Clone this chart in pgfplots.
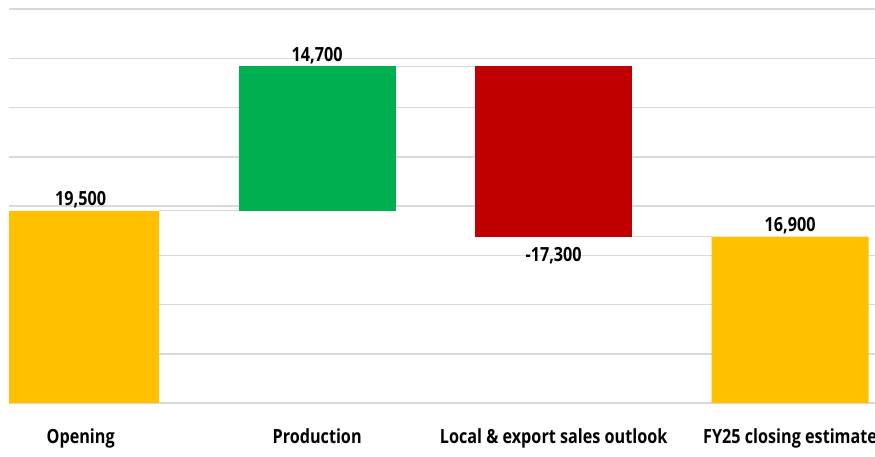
\documentclass[border=0pt]{standalone}
\usepackage{pgfplots}
\pgfplotsset{compat=1.18}
\usepackage{fontspec}
\setmainfont{Open Sans}[FakeStretch=0.83]
\definecolor{cyel}{HTML}{FFC000}
\definecolor{cgrn}{HTML}{00B050}
\definecolor{cred}{HTML}{C00000}
\definecolor{cgrid}{HTML}{D9D9D9}
\tikzset{vlab/.style={font=\bfseries\fontsize{19.5}{23}\selectfont, inner sep=0pt}}
\begin{document}
\begin{tikzpicture}
\path[use as bounding box] (-9pt,-53pt) rectangle (866pt,403pt);
\begin{axis}[
 at={(0pt,0pt)}, anchor=south west, scale only axis, width=866pt, height=394pt,
 xmin=-0.303, xmax=3.359, ymin=0, ymax=40000,
 ybar stacked, bar width=157pt,
 axis line style={draw=none},
 ytick={0,5000,...,40000}, yticklabels={}, scaled y ticks=false,
 ymajorgrids, grid style={cgrid, line width=1.5pt},
 xtick={0,1,2,3},
 xticklabels={Opening, Production, Local \& export sales outlook, FY25 closing estimate},
 major tick length=0pt,
 xticklabel style={font=\bfseries\fontsize{19.5}{23}\selectfont, yshift=-22pt},
 clip=true,
]
\addplot[draw=none, fill=white, fill opacity=0] coordinates {(0,0) (1,19500) (2,16900) (3,0)};
\addplot[draw=none, fill=cyel] coordinates {(0,19500) (1,0) (2,0) (3,16900)};
\addplot[draw=none, fill=cgrn] coordinates {(0,0) (1,14700) (2,0) (3,0)};
\addplot[draw=none, fill=cred] coordinates {(0,0) (1,0) (2,17300) (3,0)};
\draw[cgrid, line width=1pt] (axis cs:0.332,19500) -- (axis cs:0.668,19500);
\draw[cgrid, line width=1pt] (axis cs:1.332,34200) -- (axis cs:1.668,34200);
\draw[cgrid, line width=1pt] (axis cs:2.332,16900) -- (axis cs:2.668,16900);
\node[vlab, anchor=base, yshift=5pt] at (axis cs:0,19500) {19,500};
\node[vlab, anchor=base, yshift=5pt] at (axis cs:1,34200) {14,700};
\node[vlab, anchor=base, yshift=-25pt] at (axis cs:2,16900) {-17,300};
\node[vlab, anchor=base, yshift=5pt] at (axis cs:3,16900) {16,900};
\end{axis}
\end{tikzpicture}
\end{document}
